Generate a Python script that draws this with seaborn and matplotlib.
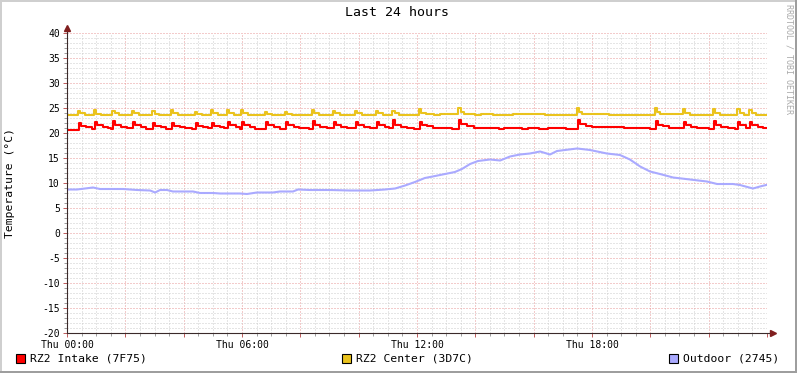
import numpy as np
import pandas as pd
import matplotlib
matplotlib.use("Agg")
import matplotlib.pyplot as plt
from matplotlib.patches import Rectangle
from matplotlib.ticker import MultipleLocator, FuncFormatter
import seaborn as sns

# ---------------- data (hours since Thu 00:00, degrees C) ----------------
intake_t = [0.00, 0.41, 0.49, 0.66, 0.85, 0.96, 1.04, 1.22, 1.40, 1.50, 1.58, 1.66, 1.85, 2.05,
            2.26, 2.34, 2.52, 2.72, 2.95, 3.03, 3.21, 3.40, 3.60, 3.68, 3.86, 4.05, 4.30, 4.42,
            4.50, 4.68, 4.85, 4.97, 5.05, 5.23, 5.40, 5.52, 5.60, 5.78, 5.92, 6.00, 6.08, 6.26,
            6.45, 6.82, 6.90, 7.08, 7.30, 7.51, 7.59, 7.77, 7.95, 8.30, 8.43, 8.51, 8.69, 8.90,
            9.15, 9.23, 9.41, 9.60, 9.91, 9.99, 10.17, 10.40, 10.63, 10.71, 10.89, 11.05, 11.18,
            11.26, 11.44, 11.65, 11.90, 12.10, 12.18, 12.36, 12.55, 13.20, 13.44, 13.52, 13.70,
            13.95, 14.80, 15.00, 15.60, 15.80, 16.20, 16.50, 17.10, 17.30, 17.52, 17.60, 17.78,
            18.00, 19.10, 20.00, 20.19, 20.27, 20.45, 20.65, 21.15, 21.23, 21.41, 21.60, 22.00,
            22.18, 22.26, 22.44, 22.65, 22.90, 23.01, 23.09, 23.27, 23.42, 23.50, 23.68, 23.85,
            23.97]
intake_v = [20.7, 22.1, 21.5, 21.2, 20.9, 22.3, 21.6, 21.2, 21.0, 20.8, 22.5, 21.7, 21.3, 21.0,
            22.3, 21.6, 21.2, 20.9, 22.1, 21.5, 21.2, 20.9, 22.1, 21.5, 21.2, 21.0, 20.8, 22.1,
            21.5, 21.2, 21.0, 22.1, 21.5, 21.2, 21.0, 22.3, 21.6, 21.2, 20.9, 22.3, 21.6, 21.2,
            20.9, 22.3, 21.6, 21.2, 20.8, 22.3, 21.6, 21.2, 21.0, 20.8, 22.5, 21.7, 21.3, 21.0,
            22.3, 21.6, 21.2, 21.0, 22.3, 21.6, 21.2, 21.0, 22.3, 21.6, 21.2, 21.0, 22.6,
            21.7, 21.3, 21.1, 20.8, 22.3, 21.7, 21.4, 21.0, 20.9, 22.7, 21.9, 21.4,
            21.0, 20.9, 21.0, 20.9, 21.0, 20.9, 21.0, 20.8, 20.9, 22.7, 21.9, 21.4,
            21.2, 21.0, 20.9, 22.4, 21.7, 21.4, 21.0, 22.2, 21.6, 21.3, 21.0, 20.8,
            22.4, 21.7, 21.3, 21.0, 20.8, 22.2, 21.6, 21.1, 22.2, 21.7, 21.3, 21.0,
            21.0]

center_t = [0.00, 0.38, 0.46, 0.60, 0.93, 1.00, 1.15, 1.55, 1.63, 1.78, 2.23, 2.31, 2.46, 2.92,
            3.00, 3.15, 3.57, 3.65, 3.80, 4.39, 4.47, 4.62, 4.94, 5.02, 5.17, 5.49, 5.57, 5.72,
            5.97, 6.05, 6.20, 6.79, 6.87, 7.02, 7.48, 7.56, 7.71, 8.40, 8.48, 8.63, 9.12, 9.20,
            9.35, 9.88, 9.96, 10.11, 10.60, 10.68, 10.83, 11.15, 11.23, 11.38, 12.07, 12.15,
            12.30, 12.60, 12.80, 13.41, 13.50, 13.60, 14.00, 14.20, 14.60, 15.30, 16.40, 17.49,
            17.57, 17.67, 18.60, 20.16, 20.24, 20.34, 21.12, 21.20, 21.35, 22.15, 22.23, 22.38,
            22.98, 23.06, 23.21, 23.39, 23.47, 23.62, 23.97]
center_v = [23.7, 24.4, 24.0, 23.7, 24.6, 23.9, 23.7, 24.5, 24.0, 23.7, 24.4, 24.0, 23.7, 24.5,
            23.9, 23.7, 24.6, 24.0, 23.7, 24.3, 23.9, 23.7, 24.6, 24.0, 23.7, 24.6, 24.0, 23.7,
            24.6, 24.0, 23.7, 24.3, 23.9, 23.7, 24.3, 23.9, 23.7, 24.7, 24.1, 23.7, 24.4, 24.0,
            23.7, 24.4, 24.0, 23.7, 24.4, 24.0, 23.7, 24.5, 24.0, 23.7, 24.8, 24.0,
            23.8, 23.6, 23.8, 25.0, 24.2, 23.8, 23.6, 23.8, 23.7, 23.8, 23.7, 25.0,
            24.2, 23.9, 23.7, 25.0, 24.2, 23.8, 24.8, 24.1, 23.7, 24.8, 24.1, 23.7,
            24.8, 24.0, 23.7, 24.7, 24.1, 23.7, 23.7]

outdoor_t = [0.00, 0.34, 0.62, 0.89, 1.13, 1.92, 2.40, 2.85, 3.02, 3.19, 3.43, 3.63, 4.32, 4.56,
             5.01, 5.25, 5.93, 6.17, 6.51, 7.06, 7.30, 7.75, 7.92, 8.33, 9.02, 9.70, 10.39,
             10.90, 11.25, 11.59, 11.93, 12.27, 12.62, 12.96, 13.30, 13.54, 13.82, 14.09, 14.50,
             14.85, 15.19, 15.53, 15.87, 16.22, 16.56, 16.80, 17.49, 17.93, 18.51, 18.96, 19.30,
             19.65, 19.99, 20.33, 20.78, 21.36, 21.94, 22.29, 22.83, 23.07, 23.52, 23.76, 23.97]
outdoor_v = [8.7, 8.7, 8.9, 9.1, 8.8, 8.8, 8.6, 8.5, 8.1, 8.6, 8.6, 8.3, 8.3, 8.0,
             8.0, 7.9, 7.9, 7.8, 8.1, 8.1, 8.3, 8.3, 8.7, 8.6, 8.6, 8.5, 8.5,
             8.7, 8.9, 9.5, 10.2, 11.0, 11.4, 11.8, 12.2, 12.8, 13.8, 14.4, 14.7,
             14.5, 15.3, 15.7, 15.9, 16.3, 15.7, 16.4, 16.9, 16.6, 15.9, 15.6, 14.7,
             13.3, 12.3, 11.8, 11.1, 10.7, 10.3, 9.8, 9.8, 9.6, 8.9, 9.3, 9.6]

series_names = ["RZ2 Intake (7F75)", "RZ2 Center (3D7C)", "Outdoor (2745)"]
series_colors = ["#FF0000", "#EAC31D", "#AAAAFF"]
series_styles = ["steps-post", "steps-post", "default"]
x_tick_hours = [0, 6, 12, 18]
x_tick_labels = ["Thu 00:00", "Thu 06:00", "Thu 12:00", "Thu 18:00"]
y_min, y_max = -20, 40

# ---------------- figure ----------------
W, H = 797, 373
plt.rcParams["font.family"] = ["DejaVu Sans Mono", "DejaVu Sans"]
fig = plt.figure(figsize=(W / 100, H / 100), dpi=100, facecolor="white")

def fx(x):
    return x / W

def fy(y):
    return 1 - y / H

ax = fig.add_axes([fx(67), fy(333), 700 / W, 300 / H])
ax.set_facecolor("white")

frames = [
    pd.DataFrame({"t": intake_t, "v": intake_v}),
    pd.DataFrame({"t": center_t, "v": center_v}),
    pd.DataFrame({"t": outdoor_t, "v": outdoor_v}),
]
for df, c, ds in zip(frames, series_colors, series_styles):
    sns.lineplot(data=df, x="t", y="v", ax=ax, color=c, linewidth=1.5,
                 drawstyle=ds, legend=False, zorder=3)

ax.set_xlim(0, 24)
ax.set_ylim(y_min, y_max)
for s in ax.spines.values():
    s.set_visible(False)

ax.xaxis.set_major_locator(MultipleLocator(2))
ax.xaxis.set_minor_locator(MultipleLocator(0.5))
ax.yaxis.set_major_locator(MultipleLocator(5))
ax.yaxis.set_minor_locator(MultipleLocator(1))

lab = dict(zip(x_tick_hours, x_tick_labels))
ax.xaxis.set_major_formatter(FuncFormatter(lambda v, p: lab.get(int(round(v)), "")))
ax.yaxis.set_major_formatter(FuncFormatter(lambda v, p: "%d" % v))

ax.set_axisbelow(True)
ax.grid(which="minor", color="#CDCDCD", linewidth=0.72, linestyle=(0, (1, 2)))
ax.grid(which="major", color="#E89898", linewidth=0.72, linestyle=(0, (1, 2)))

ax.tick_params(which="major", length=3, width=0.72, color="#C06060", labelsize=7,
               pad=2, direction="out")
ax.tick_params(which="minor", length=2, width=0.72, color="#A0A0A0", direction="out")
ax.set_xlabel("")
ax.set_ylabel("")

# axes with arrows
ax.plot([0, 0], [y_min, 41.0], color="#3A2A2A", lw=0.8, clip_on=False, zorder=4)
ax.plot([0, 24.2], [y_min, y_min], color="#3A2A2A", lw=0.8, clip_on=False, zorder=4)
ax.plot([0], [41.0], marker="^", ms=4.5, color="#801F1F", mec="#801F1F", clip_on=False, zorder=5)
ax.plot([24.2], [y_min], marker=">", ms=4.5, color="#801F1F", mec="#801F1F", clip_on=False, zorder=5)

# texts
fig.text(fx(397), fy(13), "Last 24 hours", ha="center", va="center", fontsize=9.5)
fig.text(fx(10), fy(183), "Temperature (°C)", ha="center", va="center",
         rotation=90, fontsize=8.2)
fig.text(fx(789), fy(4), "RRDTOOL / TOBI OETIKER", ha="center", va="top",
         rotation=270, fontsize=6, color="#AAAAAA")

# legend
leg_sq_x = [16, 342, 669]
for x0, name, c in zip(leg_sq_x, series_names, series_colors):
    fig.patches.append(Rectangle((fx(x0), fy(363)), 9 / W, 9 / H, transform=fig.transFigure,
                                 facecolor=c, edgecolor="black", linewidth=0.8))
    fig.text(fx(x0 + 14), fy(358.5), name, ha="left", va="center", fontsize=8.2)

# frame shading
fig.patches.append(Rectangle((0, fy(2)), 1, 2 / H, transform=fig.transFigure,
                             facecolor="#CFCFCF", edgecolor="none"))
fig.patches.append(Rectangle((0, 0), 2 / W, 1, transform=fig.transFigure,
                             facecolor="#CFCFCF", edgecolor="none"))
fig.patches.append(Rectangle((1 - 2.5 / W, 0), 2.5 / W, 1, transform=fig.transFigure,
                             facecolor="#9E9E9E", edgecolor="none"))
fig.patches.append(Rectangle((0, 0), 1, 2.5 / H, transform=fig.transFigure,
                             facecolor="#9E9E9E", edgecolor="none"))

fig.savefig("out.png", dpi=100, facecolor="white")
